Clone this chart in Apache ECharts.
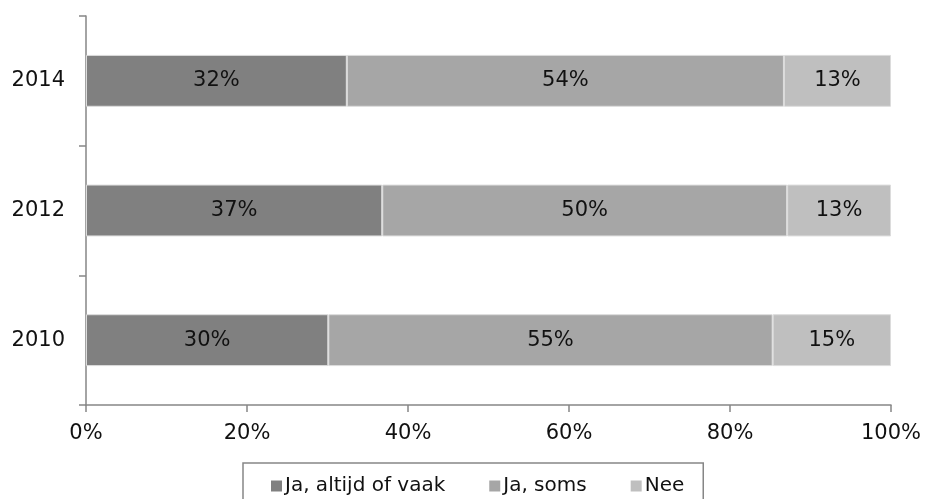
<!DOCTYPE html>
<html>
<head>
<meta charset="utf-8">
<script src="https://cdn.jsdelivr.net/npm/echarts@6/dist/echarts.min.js"></script>
<style>html,body{margin:0;padding:0;background:#fff}#c{width:925px;height:499px}</style>
</head>
<body>
<div id="c"></div>
<script>
const categories = ['2010', '2012', '2014'];
const seriesNames = ['Ja, altijd of vaak', 'Ja, soms', 'Nee'];
const altijdVaak = [30.1, 36.8, 32.4];
const soms = [55.2, 50.3, 54.3];
const nee = [14.7, 12.9, 13.3];
const xTicks = [0, 20, 40, 60, 80, 100];
const colors = ['#808080', '#a6a6a6', '#bfbfbf'];

const font = 'DejaVu Sans, Verdana, sans-serif';
const chart = echarts.init(document.getElementById('c'));
const values = [altijdVaak, soms, nee];
chart.setOption({
  animation: false,
  textStyle: { fontFamily: font },
  grid: { left: 86, right: 34, top: 16, bottom: 94, containLabel: false },
  legend: {
    data: seriesNames,
    left: 243, top: 463,
    icon: 'rect', itemWidth: 11, itemHeight: 11, itemGap: 44,
    itemStyle: { borderWidth: 0 },
    borderColor: '#868686', borderWidth: 1.5, padding: [13, 19, 12, 28],
    textStyle: { fontFamily: font, fontSize: 20, color: '#111', padding: [0, 0, 0, -2] }
  },
  xAxis: {
    type: 'value', min: xTicks[0], max: xTicks[xTicks.length - 1], interval: 20,
    axisLine: { show: true, lineStyle: { color: '#868686', width: 1.5 } },
    axisTick: { show: true, length: 7, lineStyle: { color: '#868686', width: 1.5 } },
    splitLine: { show: false },
    axisLabel: { formatter: '{value}%', fontSize: 21, color: '#111', margin: 18, fontFamily: font }
  },
  yAxis: {
    type: 'category', data: categories,
    axisLine: { show: true, lineStyle: { color: '#868686', width: 1.5 } },
    axisTick: { show: true, length: 7, lineStyle: { color: '#868686', width: 1.5 } },
    axisLabel: { fontSize: 21, color: '#111', margin: 21, fontFamily: font }
  },
  series: seriesNames.map((name, i) => ({
    name, type: 'bar', stack: 'total', barWidth: '40%',
    data: values[i],
    itemStyle: { color: colors[i], borderColor: '#dcdcdc', borderWidth: 1 },
    label: {
      show: true, position: 'inside', fontSize: 21, color: '#111', fontFamily: font,
      formatter: p => Math.round(p.value) + '%'
    }
  }))
});
</script>
</body>
</html>
